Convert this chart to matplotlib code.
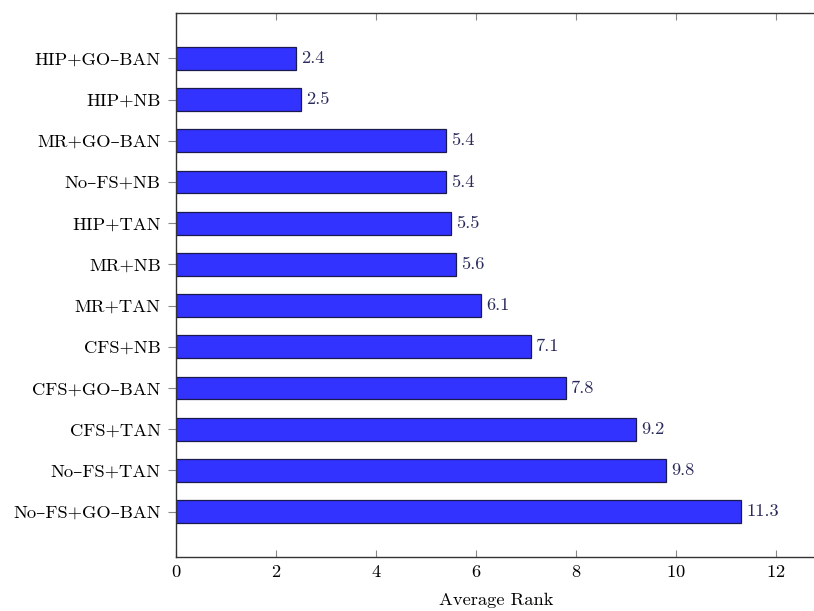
import matplotlib
matplotlib.use("Agg")
import matplotlib.pyplot as plt

plt.rcParams['font.family'] = ['cmr10', 'DejaVu Serif']
plt.rcParams['axes.formatter.use_mathtext'] = True

# bottom to top
methods = ['No–FS+GO–BAN', 'No–FS+TAN', 'CFS+TAN', 'CFS+GO–BAN', 'CFS+NB',
           'MR+TAN', 'MR+NB', 'HIP+TAN', 'No–FS+NB', 'MR+GO–BAN',
           'HIP+NB', 'HIP+GO–BAN']
avg_rank = [11.3, 9.8, 9.2, 7.8, 7.1, 6.1, 5.6, 5.5, 5.4, 5.4, 2.5, 2.4]

fs = 13.3
fig = plt.figure(figsize=(8.14, 6.11), dpi=100)
ax = fig.add_axes([176/814, 1-557/611, 640/814, 544/611])

pos = list(range(len(methods)))
bars = ax.barh(pos, avg_rank, height=0.55, color='#3333ff',
               edgecolor='#1a1a4d', linewidth=0.9)
for p, v in zip(pos, avg_rank):
    ax.text(v + 0.1, p, '%.1f' % v, va='center', ha='left',
            fontsize=fs, color='#2a2a5a')

ax.set_xlim(0, 12.8)
ax.set_ylim(-1.1, 12.1)
ax.set_yticks(pos)
ax.set_yticklabels(methods, fontsize=fs)
ax.set_xticks(range(0, 13, 2))
ax.tick_params(axis='x', direction='in', top=True, bottom=True,
               length=5, color='#888888', labelsize=fs, pad=5)
ax.tick_params(axis='y', direction='out', left=True, right=False,
               length=6, color='#888888', pad=5)
for s in ax.spines.values():
    s.set_color('#333333')
    s.set_linewidth(1.0)
ax.spines['right'].set_visible(False)
ax.set_xlabel('Average Rank', fontsize=fs, labelpad=9)

fig.savefig('out.png', dpi=100)
